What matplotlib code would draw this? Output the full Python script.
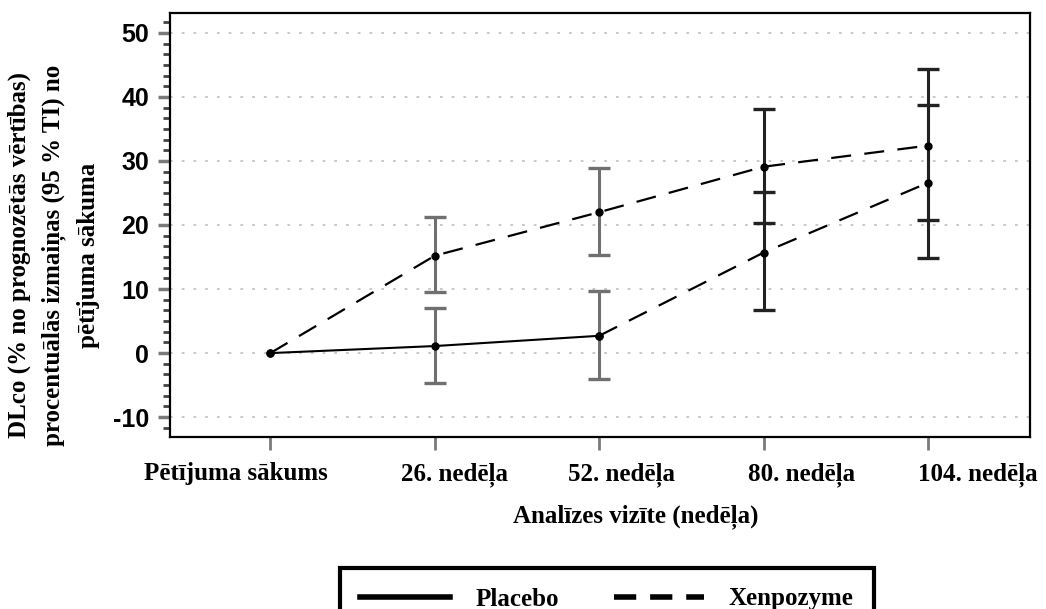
import numpy as np
import matplotlib
matplotlib.use('Agg')
import matplotlib.pyplot as plt
import matplotlib.transforms as mtrans
from matplotlib.lines import Line2D
from matplotlib.ticker import MultipleLocator

plt.rcParams['axes.unicode_minus'] = False

# x axis visits
visits = ['Pētījuma sākums', '26. nedēļa', '52. nedēļa', '80. nedēļa', '104. nedēļa']

# Xenpozyme group (baseline -> week 104)
xen_mean = [0.0, 15.2, 22.0, 29.1, 32.4]
xen_low = [np.nan, 9.6, 15.3, 20.3, 20.8]
xen_high = [np.nan, 21.2, 28.9, 38.1, 44.3]

# placebo group (baseline -> week 52)
pla_mean = [0.0, 1.1, 2.7]
pla_low = [np.nan, -4.6, -4.0]
pla_high = [np.nan, 7.0, 9.7]

# placebo group switched to Xenpozyme (week 52 -> week 104)
sw_mean = [2.7, 15.7, 26.6]
sw_low = [np.nan, 6.7, 14.8]
sw_high = [np.nan, 25.1, 38.7]

serif = 'Liberation Serif'
sans = 'Liberation Sans'

fig = plt.figure(figsize=(10.46, 6.09), dpi=100)
ax = fig.add_axes([170/1046, 1-437/609, 860/1046, 424/609])

x = np.arange(len(visits))
x_pla = x[:3]
x_sw = x[2:]

dash = (0, (9, 6))
ax.plot(x, xen_mean, color='black', lw=1.6, ls=dash, zorder=3)
ax.plot(x_pla, pla_mean, color='black', lw=1.5, ls='-', zorder=3)
ax.plot(x_sw, sw_mean, color='black', lw=1.6, ls=dash, zorder=3)

# error bars, the early visits look lighter grey in the original
def bars(xs, m, lo, hi):
    for xi, mi, l, h in zip(xs, m, lo, hi):
        if np.isnan(l):
            continue
        c = '#707070' if xi < 3 else '#222222'
        ax.errorbar([xi], [mi], yerr=[[mi - l], [h - mi]], fmt='none',
                    ecolor=c, elinewidth=2.2, capsize=8, capthick=2.4, zorder=2)

bars(x, xen_mean, xen_low, xen_high)
bars(x_pla, pla_mean, pla_low, pla_high)
bars(x_sw, sw_mean, sw_low, sw_high)

for xs, m in [(x, xen_mean), (x_pla, pla_mean), (x_sw, sw_mean)]:
    ax.plot(xs, m, 'o', color='black', ms=5, zorder=4)

ax.set_xlim(-0.61, 4.62)
ax.set_ylim(-13.1, 53.1)
ax.set_xticks(x)
ax.set_xticklabels(visits, fontfamily=serif, fontweight='bold', fontsize=18)

ax.set_yticks(range(-10, 51, 10))
ax.yaxis.set_minor_locator(MultipleLocator(10/6))
for lbl in ax.get_yticklabels():
    lbl.set_fontfamily(sans)
    lbl.set_fontweight('bold')
    lbl.set_fontsize(18)

ax.tick_params(axis='y', which='major', length=9, width=2.5, color='#7a7a7a', pad=6)
ax.tick_params(axis='y', which='minor', length=5, width=2, color='#444444')
ax.tick_params(axis='x', which='major', length=9, width=2, color='#7a7a7a', pad=9)

# labels in the original sit a bit off their ticks (after tick_params, which resets transforms)
shifts = [-34, 20, 22, 38, 50]
for lbl, dx in zip(ax.get_xticklabels(), shifts):
    lbl.set_transform(lbl.get_transform() + mtrans.ScaledTranslation(dx/100, 0, fig.dpi_scale_trans))

ax.yaxis.grid(True, ls=(0, (1.5, 5)), color='#c4c4c4', lw=1.3)
ax.set_axisbelow(True)
for s in ax.spines.values():
    s.set_linewidth(1.6)

ax.set_xlabel('Analīzes vizīte (nedēļa)', fontfamily=serif, fontweight='bold', fontsize=18)
ax.xaxis.set_label_coords(0.542, -0.16)
ax.set_ylabel('DLco (% no prognozētās vērtības)\nprocentuālās izmaiņas (95 % TI) no\npētījuma sākuma',
              fontfamily=serif, fontweight='bold', fontsize=18, va='center', ha='center',
              multialignment='center', linespacing=1.6)
ax.yaxis.set_label_coords(-0.135, 0.429)

handles = [Line2D([], [], color='black', lw=4, ls='-'),
           Line2D([], [], color='black', lw=4, ls=(0, (4, 2.5)))]
leg = fig.legend(handles, ['Placebo', 'Xenpozyme'], loc='upper center',
                 bbox_to_anchor=(607/1046, 1-555/609), ncol=2, fancybox=False,
                 edgecolor='black', framealpha=1, borderpad=0.8, handlelength=3.6,
                 handletextpad=1.0, columnspacing=2.2,
                 prop={'family': serif, 'weight': 'bold', 'size': 18})
leg.get_frame().set_linewidth(3)

fig.savefig('out.png', dpi=100)
